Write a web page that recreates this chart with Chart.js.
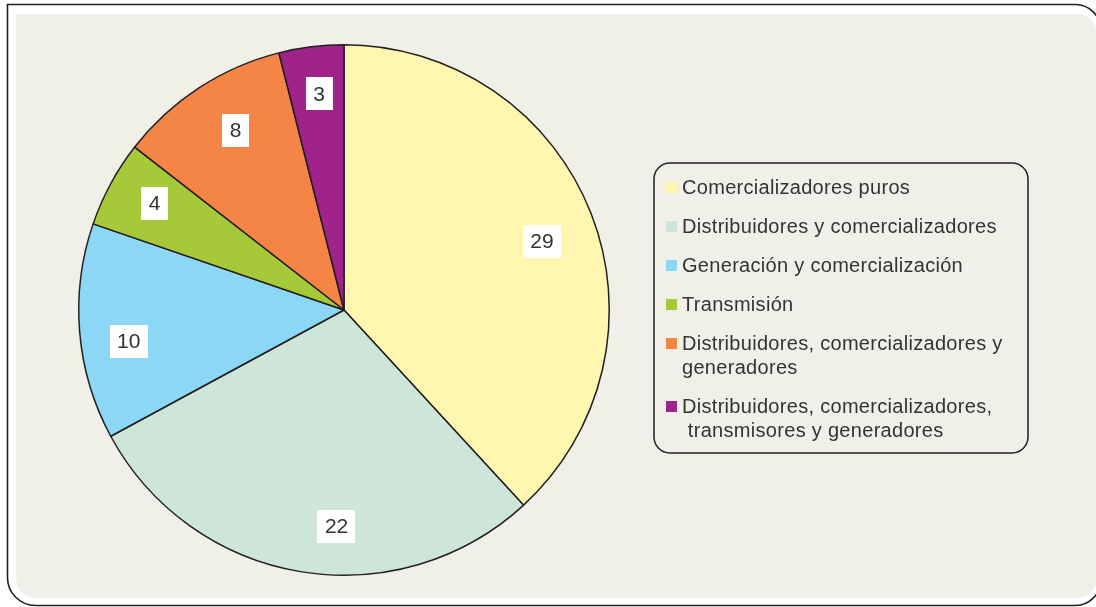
<!DOCTYPE html>
<html>
    <head>
        <meta http-equiv="Content-Type" content="text/html; charset=UTF-8">
        <title>Agentes del mercado eléctrico</title>
        <script src="https://cdn.jsdelivr.net/npm/chart.js@4.4.0/dist/chart.umd.min.js"></script>
        <style type="text/css">
            body { margin: 0; background: #ffffff; }
            canvas { display: block; }
        </style>
    </head>
    <body>
        <canvas id="agentes" width="1096" height="607"></canvas>

        <script>
            // Number of agents by activity
            var categories = [
                'Comercializadores puros',
                'Distribuidores y comercializadores',
                'Generación y comercialización',
                'Transmisión',
                'Distribuidores, comercializadores y\ngeneradores',
                'Distribuidores, comercializadores,\n transmisores y generadores'
            ];
            var agentCounts = [29, 22, 10, 4, 8, 3];
            var sliceColors = ['#FFF6B0', '#CDE6D7', '#8DD7F6', '#A6C93A', '#F58447', '#A0228B'];

            var panelColor = '#F1F0E8';
            var textColor = '#333333';
            var fontFamily = '"Liberation Sans", Helvetica, Arial, sans-serif';

            // hand placement of the value boxes: angle nudge (deg) and distance as part of the radius
            var boxAngleNudge = [2.2, -7.5, -3.6, 1, 2, 0.5];
            var boxRadiusPart = [0.79, 0.815, 0.82, 0.82, 0.79, 0.82];

            function roundRect(ctx, x, y, w, h, r) {
                // r = [topLeft, topRight, bottomRight, bottomLeft]
                ctx.beginPath();
                ctx.moveTo(x + r[0], y);
                ctx.lineTo(x + w - r[1], y);
                ctx.arcTo(x + w, y, x + w, y + r[1], r[1]);
                ctx.lineTo(x + w, y + h - r[2]);
                ctx.arcTo(x + w, y + h, x + w - r[2], y + h, r[2]);
                ctx.lineTo(x + r[3], y + h);
                ctx.arcTo(x, y + h, x, y + h - r[3], r[3]);
                ctx.lineTo(x, y + r[0]);
                ctx.arcTo(x, y, x + r[0], y, r[0]);
                ctx.closePath();
            }

            // white card with dark outline and the beige panel inside it
            var framePlugin = {
                id: 'frame',
                beforeDraw: function (chart) {
                    var ctx = chart.ctx;
                    ctx.save();
                    ctx.fillStyle = '#ffffff';
                    ctx.fillRect(0, 0, chart.width, chart.height);
                    roundRect(ctx, 7.5, 4.5, 1093, 601, [0, 25, 25, 28]);
                    ctx.lineWidth = 1.6;
                    ctx.strokeStyle = '#231F20';
                    ctx.stroke();
                    roundRect(ctx, 16, 14, 1081, 584, [0, 20, 20, 20]);
                    ctx.fillStyle = panelColor;
                    ctx.fill();
                    ctx.restore();
                }
            };

            // white boxes holding the count of each slice
            var valueBoxPlugin = {
                id: 'valueBoxes',
                afterDatasetsDraw: function (chart) {
                    var ctx = chart.ctx;
                    var meta = chart.getDatasetMeta(0);
                    ctx.save();
                    ctx.font = '21px ' + fontFamily;
                    ctx.textAlign = 'center';
                    ctx.textBaseline = 'middle';
                    meta.data.forEach(function (arc, i) {
                        var mid = (arc.startAngle + arc.endAngle) / 2 + boxAngleNudge[i] * Math.PI / 180;
                        var dist = arc.outerRadius * boxRadiusPart[i];
                        var x = arc.x + Math.cos(mid) * dist;
                        var y = arc.y + Math.sin(mid) * dist;
                        var txt = String(agentCounts[i]);
                        var w = ctx.measureText(txt).width + 15;
                        var h = 33;
                        ctx.fillStyle = '#ffffff';
                        ctx.fillRect(Math.round(x - w / 2), Math.round(y - h / 2), Math.round(w), h);
                        ctx.fillStyle = textColor;
                        ctx.fillText(txt, x, y + 1);
                    });
                    ctx.restore();
                }
            };

            // legend in a rounded box to the right of the pie
            var legendBoxPlugin = {
                id: 'legendBox',
                afterDraw: function (chart) {
                    var ctx = chart.ctx;
                    ctx.save();
                    roundRect(ctx, 654, 163, 374, 290, [16, 16, 16, 16]);
                    ctx.fillStyle = panelColor;
                    ctx.fill();
                    ctx.lineWidth = 1.5;
                    ctx.strokeStyle = '#231F20';
                    ctx.stroke();

                    ctx.font = '20px ' + fontFamily;
                    ctx.letterSpacing = '0.3px';
                    ctx.textAlign = 'left';
                    ctx.textBaseline = 'middle';
                    var y = 187;
                    categories.forEach(function (label, i) {
                        var lines = label.split('\n');
                        ctx.fillStyle = sliceColors[i];
                        ctx.fillRect(666, y - 5, 11, 11);
                        ctx.fillStyle = textColor;
                        lines.forEach(function (line, j) {
                            ctx.fillText(line, 682, y + 1 + j * 24);
                        });
                        y += (lines.length - 1) * 24 + 39;
                    });
                    ctx.restore();
                }
            };

            var agentes = document.getElementById('agentes').getContext('2d');
            var agentesChart = new Chart(agentes, {
                type: 'pie',
                data: {
                    labels: categories,
                    datasets: [{
                        data: agentCounts,
                        backgroundColor: sliceColors,
                        borderColor: '#231F20',
                        borderWidth: 1.5
                    }]
                },
                options: {
                    responsive: false,
                    animation: false,
                    layout: {
                        padding: { left: 78, right: 486, top: 44, bottom: 31 }
                    },
                    plugins: {
                        legend: { display: false },
                        tooltip: { enabled: false }
                    }
                },
                plugins: [framePlugin, valueBoxPlugin, legendBoxPlugin]
            });
        </script>
    </body>
</html>
